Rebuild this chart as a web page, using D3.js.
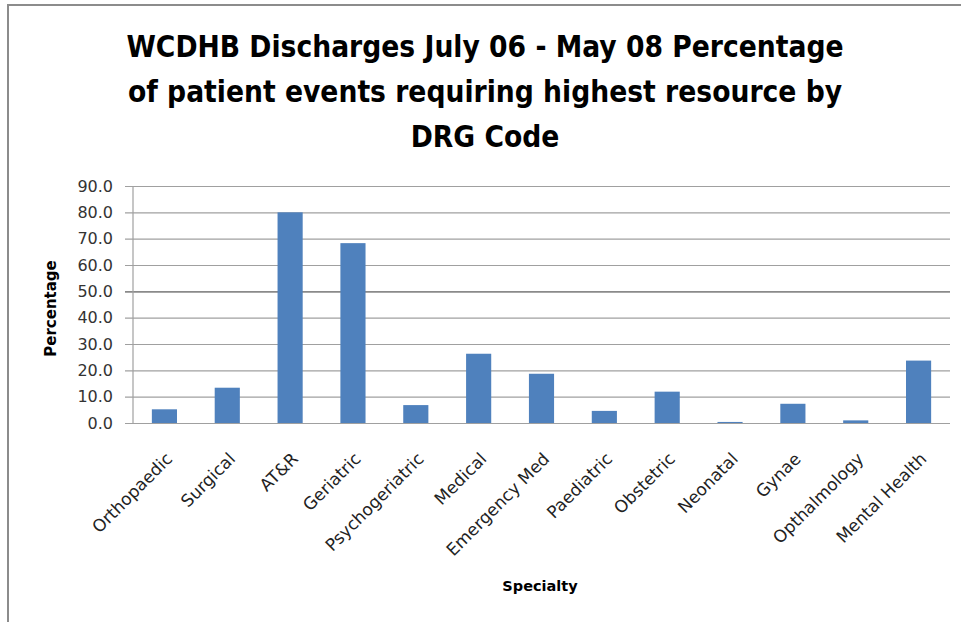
<!DOCTYPE html>
<html>
<head>
<meta charset="utf-8">
<script src="https://cdn.jsdelivr.net/npm/d3@7/dist/d3.min.js"></script>
<style>
  html, body { margin: 0; padding: 0; background: #fff; }
  svg { display: block; }
</style>
</head>
<body>
<div id="chart"></div>
<script>
  // Chart data
  const categories = ['Orthopaedic', 'Surgical', 'AT&R', 'Geriatric', 'Psychogeriatric', 'Medical',
    'Emergency Med', 'Paediatric', 'Obstetric', 'Neonatal', 'Gynae', 'Opthalmology', 'Mental Health'];
  const values = [5.2, 13.4, 80.0, 68.3, 6.8, 26.3, 18.7, 4.6, 11.9, 0.4, 7.3, 1.0, 23.7];
  const yTicks = [0, 10, 20, 30, 40, 50, 60, 70, 80, 90];
  const titleLines = ['WCDHB Discharges July 06 - May 08 Percentage',
    'of patient events requiring highest resource by', 'DRG Code'];

  const W = 961, H = 622;
  const FONT = '"DejaVu Sans", Verdana, sans-serif';
  const TITLE_FONT = '"DejaVu Sans Condensed", "DejaVu Sans", sans-serif';

  const svg = d3.select('#chart').append('svg')
    .attr('width', W).attr('height', H);

  // frame (only top and left edges are visible in the crop)
  svg.append('path')
    .attr('d', `M8,${H} L8,5 L${W},5`)
    .attr('fill', 'none').attr('stroke', '#8c8c8c').attr('stroke-width', 2);

  // title
  svg.append('g').selectAll('text').data(titleLines).enter().append('text')
    .attr('x', 485).attr('y', (d, i) => 57 + i * 45)
    .attr('text-anchor', 'middle')
    .style('font-family', TITLE_FONT).style('font-weight', 700).style('font-size', '29.6px')
    .attr('fill', '#000')
    .text(d => d);

  const plot = { left: 133, right: 950, top: 186, bottom: 423 };

  const x = d3.scaleBand().domain(categories).range([plot.left, plot.right]).paddingInner(0.6).paddingOuter(0.3);
  const y = d3.scaleLinear().domain([0, 90]).range([plot.bottom, plot.top]);

  // gridlines + y ticks
  const yAxis = d3.axisLeft(y).tickValues(yTicks).tickFormat(d3.format('.1f'))
    .tickSize(-(plot.right - plot.left) - 8).tickPadding(12);
  const gy = svg.append('g').attr('transform', `translate(${plot.left - 8},0)`).call(yAxis);
  gy.select('.domain').remove();
  gy.selectAll('.tick line')
    .attr('stroke', d => d === 50 ? '#8a8a8a' : '#a0a0a0')
    .attr('stroke-width', d => d === 50 ? 1.8 : 1.2);
  gy.selectAll('.tick text')
    .style('font-family', FONT).style('font-size', '16px').attr('fill', '#333');

  // y axis line
  svg.append('line')
    .attr('x1', plot.left).attr('x2', plot.left)
    .attr('y1', plot.top).attr('y2', plot.bottom)
    .attr('stroke', '#a0a0a0').attr('stroke-width', 1.2);

  // bars
  svg.append('g').selectAll('rect').data(values).enter().append('rect')
    .attr('x', (d, i) => x(categories[i]))
    .attr('y', d => y(d))
    .attr('width', x.bandwidth())
    .attr('height', d => y(0) - y(d))
    .attr('fill', '#4f81bd');

  // x labels, rotated
  const xAxis = d3.axisBottom(x).tickSize(0).tickPadding(0);
  const gx = svg.append('g').attr('transform', `translate(0,${plot.bottom})`).call(xAxis);
  gx.select('.domain').remove();
  gx.selectAll('.tick text')
    .attr('text-anchor', 'end')
    .attr('y', 0).attr('dy', 0)
    .attr('transform', 'translate(9,37) rotate(-45)')
    .style('font-family', FONT).style('font-size', '17px').attr('fill', '#222');

  // axis titles
  svg.append('text')
    .attr('transform', `translate(56,${(plot.top + plot.bottom) / 2 + 4}) rotate(-90)`)
    .attr('text-anchor', 'middle')
    .style('font-family', FONT).style('font-weight', 700).style('font-size', '15px')
    .text('Percentage');

  svg.append('text')
    .attr('x', 540).attr('y', 591)
    .attr('text-anchor', 'middle')
    .style('font-family', FONT).style('font-weight', 700).style('font-size', '14.5px')
    .text('Specialty');
</script>
</body>
</html>
